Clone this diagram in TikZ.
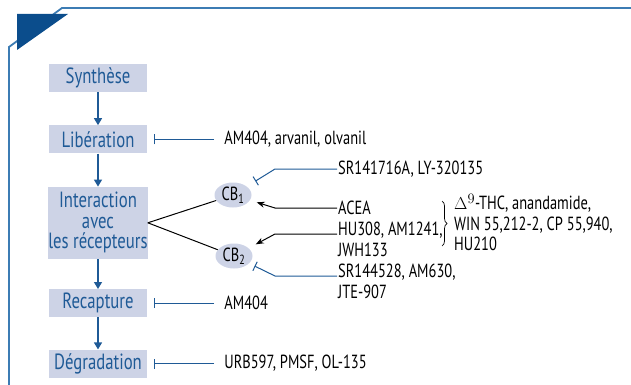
\documentclass[tikz,border=0pt]{standalone}
\usepackage{fontspec}
\setmainfont[FakeStretch=0.76]{PT Sans}
\usetikzlibrary{positioning}
\usetikzlibrary{arrows.meta}
\usetikzlibrary{shapes.geometric}
\usetikzlibrary{decorations.pathreplacing}

\definecolor{boxfill}{HTML}{CDD3E6}
\definecolor{stepblue}{HTML}{1F5A96}
\definecolor{frameblue}{HTML}{3C7CB4}
\definecolor{cornerblue}{HTML}{0B4D8C}

\begin{document}
\begin{tikzpicture}[x=1pt,y=-1pt]
  \tikzset{
    node distance=32pt,
    every node/.style={font=\fontsize{19}{20.5}\selectfont},
    stage/.style={fill=boxfill, text=stepblue, minimum width=98pt,
      minimum height=28pt, inner sep=0pt, align=center,
      font=\fontsize{22}{20.5}\selectfont},
    recep/.style={ellipse, fill=boxfill, minimum width=37pt,
      minimum height=25pt, inner sep=0pt},
    drug/.style={anchor=west, inner sep=1pt, align=left},
    flow/.style={stepblue, line width=1.2pt, -{Triangle[length=7pt,width=8pt]}},
    block/.style={stepblue, line width=1pt, -{Bar[width=10pt]}},
    act/.style={black, line width=1pt, -{Stealth[length=8pt,width=6pt]}},
  }
  \useasboundingbox (0,0) rectangle (631,385);

  % cadre
  \draw[frameblue, line width=1.8pt] (9,386) -- (9,47) -- (62,8) -- (632,8);
  \fill[cornerblue] (17,14) -- (68,14) -- (17,50) -- cycle;

  % etapes
  \node[stage] (syn) at (98,78) {Synthèse};
  \node[stage, below=33pt of syn] (lib) {Libération};
  \node[stage, below=33pt of lib, minimum height=72pt] (inter)
    {Interaction\\avec\\les récepteurs};
  \node[stage, below=30pt of inter] (recap) {Recapture};
  \node[stage, below=32pt of recap] (degr) {Dégradation};

  \draw[flow] (syn) -- (lib);
  \draw[flow] (lib) -- (inter);
  \draw[flow] (inter) -- (recap);
  \draw[flow] (recap) -- (degr);

  % recepteurs
  \node[recep] (cb1) at (233,195) {CB\textsubscript{1}};
  \node[recep] (cb2) at (234,256) {CB\textsubscript{2}};
  \draw[line width=1pt] (inter.east) -- (cb1);
  \draw[line width=1pt] (inter.east) -- (cb2);

  % inhibiteurs des etapes
  \node[drug, right=76pt of lib] (libtxt) {AM404, arvanil, olvanil};
  \node[drug, right=76pt of recap] (recaptxt) {AM404};
  \node[drug, right=76pt of degr] (degrtxt) {URB597, PMSF, OL-135};
  \draw[block, shorten <=9pt, shorten >=7pt] (libtxt) -- (lib);
  \draw[block, shorten <=9pt, shorten >=7pt] (recaptxt) -- (recap);
  \draw[block, shorten <=9pt, shorten >=7pt] (degrtxt) -- (degr);

  % ligands
  \node[drug] (sr1) at (337,169) {SR141716A, LY-320135};
  \node[drug] (acea) at (337,208) {ACEA};
  \node[drug, anchor=north west] (hu) at (337,221) {HU308, AM1241,\\JWH133};
  \node[drug, anchor=north west] (sr2) at (337,263) {SR144528, AM630,\\JTE-907};
  \draw[block, shorten >=10pt] (sr1.west) -- ++(-62,0) -- (cb1);
  \draw[act, shorten >=7pt] (acea.west) -- ++(-62,0) -- (cb1);
  \draw[act, shorten >=8pt] ([yshift=-13pt]hu.north west) -- ++(-62,0) -- (cb2);
  \draw[block, shorten >=6pt] ([yshift=-13pt]sr2.north west) -- ++(-62,0) -- (cb2);

  % agonistes mixtes
  \draw[line width=0.7pt, decorate, decoration={brace, amplitude=5pt}]
    (442,201) -- (442,246);
  \node[drug, anchor=north west] (mixed) at (453,193)
    {$\Delta^9$-THC, anandamide,\\WIN 55,212-2, CP 55,940,\\HU210};
\end{tikzpicture}
\end{document}
